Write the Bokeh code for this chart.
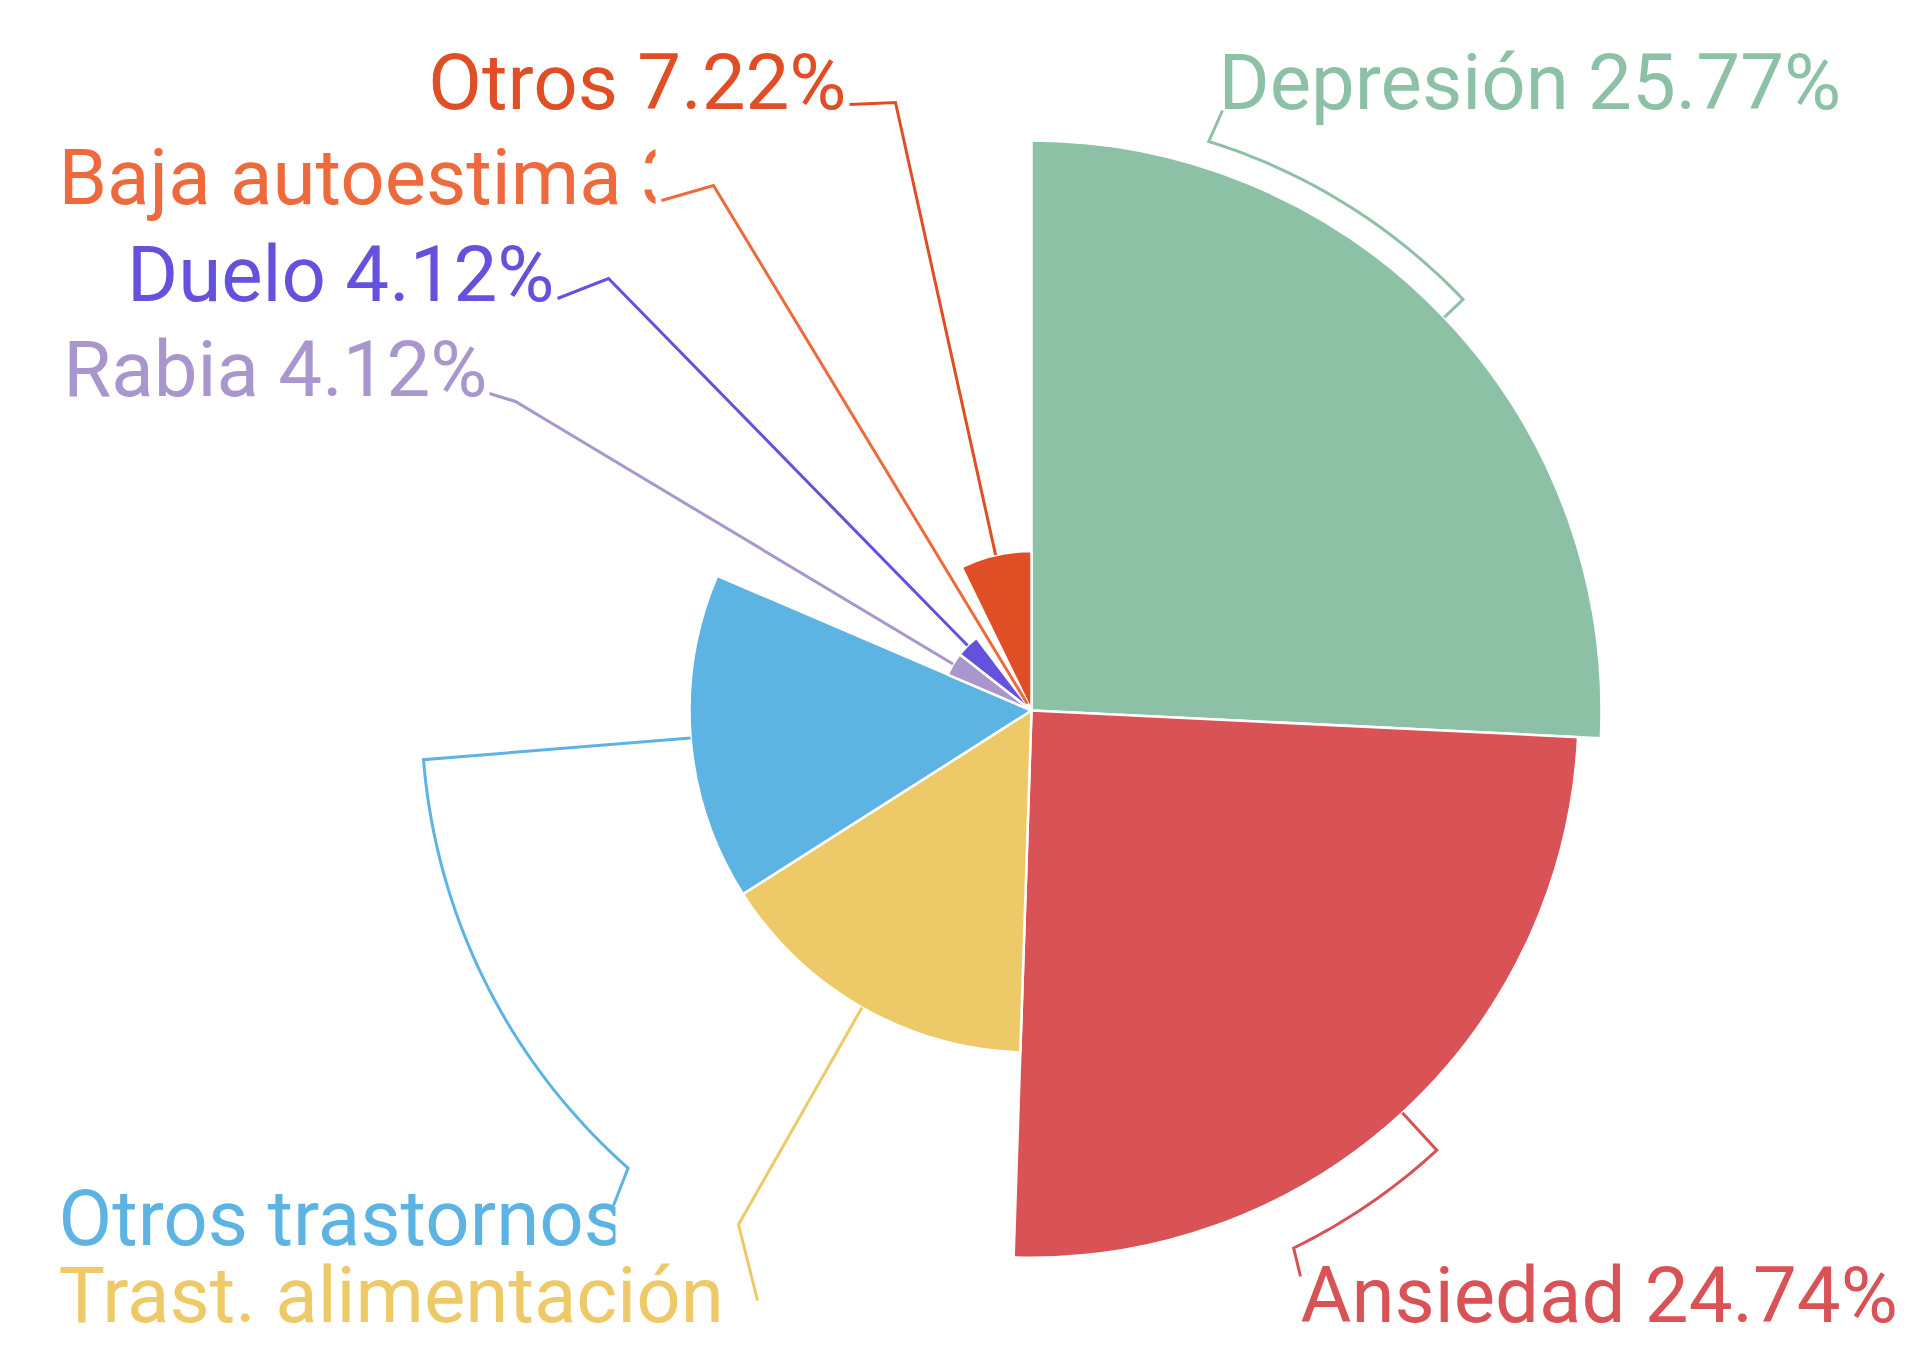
import numpy as np
from bokeh.plotting import figure
from bokeh.models import Range1d
from bokeh.embed import file_html
from bokeh.resources import INLINE
from bokeh.core.properties import value

# ---------------- data ----------------
categories = ["Depresión", "Ansiedad", "Trast. alimentación", "Otros trastornos",
              "Rabia", "Duelo", "Baja autoestima", "Otros"]
percent = [25.77, 24.74, 15.46, 15.46, 4.12, 4.12, 3.09, 7.22]
# petal radius relative to the largest petal
radius_rel = [1.0, 0.96, 0.60, 0.60, 0.16, 0.16, 0.01, 0.28]
colors = ["#8DC1A6", "#D95256", "#EDC967", "#5DB4E2",
          "#A896CC", "#6451DC", "#EE6A3C", "#E04E25"]
labels = [f"{c} {p:.2f}%" for c, p in zip(categories, percent)]

# ---------------- layout ----------------
PW, PH = 1899, 1345
IMG_H = 1361
CX, CY = 1031, 710          # pie centre (picture pixels, y down)
RMAX = 570                  # radius of the largest petal (px)
FONT = value("Roboto")
FS = "78px"
TEXT_DY = 26                # renderer baseline correction (px)
LW = 3


def Y(y):
    return IMG_H - y


def pt(r, theta_deg):
    t = np.radians(theta_deg)
    return CX + r * np.sin(t), CY - r * np.cos(t)


def arc(r, a0, a1, n=40):
    ts = np.linspace(a0, a1, n)
    return [pt(r, t) for t in ts]


p = figure(width=PW, height=PH, x_range=Range1d(0, PW), y_range=Range1d(IMG_H - PH, IMG_H),
           output_backend="svg", toolbar_location=None, min_border=0,
           x_axis_location=None, y_axis_location=None)
p.grid.visible = False
p.outline_line_color = None
p.background_fill_color = "white"
p.border_fill_color = "white"

tot = sum(percent)
fr = np.array(percent) / tot * 360.0
ends = np.cumsum(fr)
starts = ends - fr
mids = (starts + ends) / 2
radii = [RMAX * r for r in radius_rel]

p.wedge(x=[CX] * len(percent), y=[Y(CY)] * len(percent), radius=radii,
        start_angle=list(np.radians(90 - starts)), end_angle=list(np.radians(90 - ends)),
        direction="clock", fill_color=colors, line_color="white", line_width=2.5)

# ---------------- labels ----------------
# (x, baseline, align) in picture pixels
label_pos = [
    (1218, 108, "left"),    # Depresión
    (1300, 1321, "left"),   # Ansiedad
    (58, 1321, "left"),     # Trast. alimentación
    (58, 1244, "left"),     # Otros trastornos
    (487, 395, "right"),    # Rabia
    (554, 300, "right"),    # Duelo
    (58, 203, "left"),      # Baja autoestima
    (846, 108, "right"),    # Otros
]
for lab, col, (x, y, al) in zip(labels, colors, label_pos):
    p.text(x=[x], y=[Y(y - TEXT_DY)], text=[lab], text_color=col, text_font=FONT,
           text_font_size=FS, text_align=al, text_baseline="alphabetic")

# truncation of the labels that run out of room (white masks)
masks = [(655, 870, 135, 228), (615, 905, 1170, 1259), (730, 1005, 1259, 1345)]
for l, r, t, b in masks:
    p.quad(left=[l], right=[r], top=[Y(t)], bottom=[Y(b)], fill_color="white", line_color=None)

# ---------------- leader lines ----------------
lines = {}
i = 0  # Depresión
lines[i] = [pt(radii[i], mids[i])] + arc(596, mids[i], 17.3) + [(1222, 110)]
i = 1  # Ansiedad
lines[i] = [pt(radii[i], mids[i])] + arc(598, mids[i], 154.0) + [(1300, 1276)]
i = 2  # Trast. alimentación
lines[i] = [pt(radii[i], mids[i]), (738, 1224), (757, 1300)]
i = 3  # Otros trastornos
lines[i] = [pt(radii[i], mids[i])] + arc(610, mids[i], 221.4) + [(613, 1205)]
i = 4  # Rabia
lines[i] = [(489, 393), (515, 401), (540, 416), pt(radii[i], mids[i])]
i = 5  # Duelo
lines[i] = [(557, 298), (608, 278), pt(radii[i], mids[i])]
i = 6  # Baja autoestima
lines[i] = [(661, 200), (713, 185), pt(max(radii[i], 8), mids[i])]
i = 7  # Otros
lines[i] = [(849, 104), (895, 102), pt(radii[i], mids[i])]

for k, pts in lines.items():
    xs = [q[0] for q in pts]
    ys = [Y(q[1]) for q in pts]
    p.line(xs, ys, line_color=colors[k], line_width=LW, line_join="miter")

open("out.html", "w").write(file_html(p, INLINE))
